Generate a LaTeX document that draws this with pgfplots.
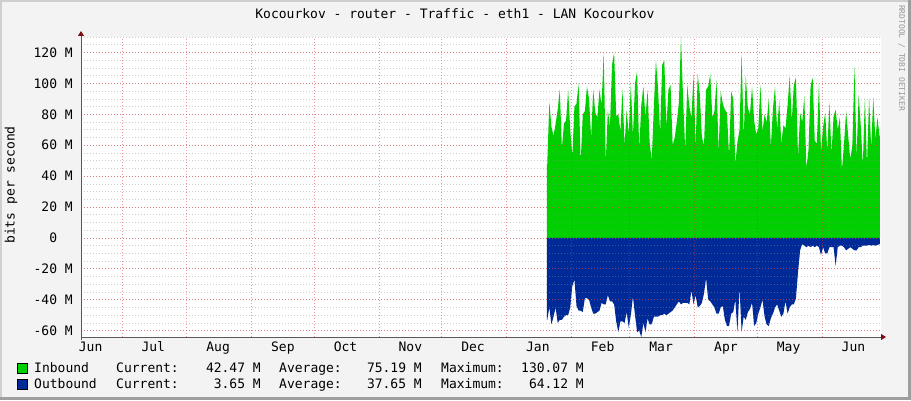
\documentclass[border=0pt]{standalone}
\usepackage{fontspec}
\setmainfont{DejaVu Sans Mono}
\usepackage{pgfplots}
\pgfplotsset{compat=1.18}
\usepackage{pgfplotstable}
\usetikzlibrary{arrows.meta}
\definecolor{inb}{RGB}{0,207,0}
\definecolor{outb}{RGB}{0,42,151}
\definecolor{bg}{RGB}{243,243,243}
\definecolor{arrowred}{RGB}{128,16,16}
\definecolor{mgrid}{RGB}{222,48,48}
\definecolor{ngrid}{RGB}{143,143,143}
\definecolor{shadea}{RGB}{207,207,207}
\definecolor{shadeb}{RGB}{158,158,158}
\newcommand\rf{\fontsize{13}{15}\selectfont}

\pgfplotstableread{
d v
203.3 0
203.3 48
203.5 48
204.5 88
205.5 72
206.5 66
207.5 74
208.5 83
209.5 96
210.5 58
211.5 74
212.5 76
213.5 96
214.5 70
215.5 53
216.5 85
217.5 87
218.5 100
219.5 49
220.5 80
221.5 82
222.5 98
223.5 90
224.5 65
225.5 96
226.5 81
227.5 78
228.5 96
229.5 86
230.5 120
231.5 49
232.5 83
233.5 72
234.5 112
235.5 120
236.5 79
237.5 80
238.5 69
239.5 96
240.5 60
241.5 83
242.5 67
243.5 100
244.5 66
245.5 100
246.5 108
247.5 57
248.5 86
249.5 98
250.5 78
251.5 96
252.5 62
253.5 50
254.5 85
255.5 115
256.5 97
257.5 68
258.5 112
259.5 115
260.5 72
261.5 96
262.5 99
263.5 60
264.5 65
265.5 75
266.5 88
267.5 130.07
268.5 90
269.5 57
270.5 99
271.5 85
272.5 78
273.5 106
274.5 59
275.5 106
276.5 93
277.5 65
278.5 60
279.5 96
280.5 98
281.5 106
282.5 78
283.5 82
284.5 102
285.5 56
286.5 95
287.5 87
288.5 83
289.5 81
290.5 53
291.5 95
292.5 90
293.5 48
294.5 62
295.5 70
296.5 120
297.5 65
298.5 105
299.5 84
300.5 80
301.5 98
302.5 76
303.5 67
304.5 71
305.5 99
306.5 69
307.5 80
308.5 75
309.5 90
310.5 59
311.5 84
312.5 98
313.5 70
314.5 89
315.5 61
316.5 73
317.5 71
318.5 86
319.5 105
320.5 76
321.5 99
322.5 104
323.5 52
324.5 81
325.5 75
326.5 92
327.5 45
328.5 57
329.5 98
330.5 104
331.5 63
332.5 61
333.5 100
334.5 56
335.5 72
336.5 81
337.5 56
338.5 88
339.5 54
340.5 79
341.5 83
342.5 70
343.5 78
344.5 44
345.5 61
346.5 82
347.5 66
348.5 51
349.5 60
350.5 111
351.5 52
352.5 93
353.5 73
354.5 47
355.5 91
356.5 47
357.5 91
358.5 58
359.5 91
360.5 64
361.5 78
362.5 66
362.7 66
362.7 0
}\inbound

\pgfplotstableread{
d v
203.3 0
203.3 -53
203.5 -53
204.5 -45
205.5 -56
206.5 -51
207.5 -45
208.5 -55
209.5 -53
210.5 -53
211.5 -51
212.5 -50
213.5 -50
214.5 -45
215.5 -31
216.5 -27
217.5 -44
218.5 -47
219.5 -47
220.5 -48
221.5 -39
222.5 -39
223.5 -40
224.5 -45
225.5 -49
226.5 -49
227.5 -48
228.5 -47
229.5 -42
230.5 -43
231.5 -43
232.5 -37
233.5 -41
234.5 -41
235.5 -43
236.5 -54
237.5 -61
238.5 -54
239.5 -54
240.5 -55
241.5 -48
242.5 -58
243.5 -50
244.5 -38
245.5 -50
246.5 -61
247.5 -60
248.5 -64.12
249.5 -55
250.5 -61
251.5 -52
252.5 -56
253.5 -56
254.5 -51
255.5 -51
256.5 -51
257.5 -50
258.5 -50
259.5 -49
260.5 -50
261.5 -49
262.5 -48
263.5 -47
264.5 -45
265.5 -43
266.5 -41
267.5 -43
268.5 -42
269.5 -42
270.5 -42
271.5 -43
272.5 -34
273.5 -43
274.5 -37
275.5 -45
276.5 -44
277.5 -42
278.5 -36
279.5 -26
280.5 -40
281.5 -41
282.5 -43
283.5 -45
284.5 -49
285.5 -49
286.5 -45
287.5 -44
288.5 -53
289.5 -57
290.5 -57
291.5 -49
292.5 -48
293.5 -40
294.5 -61
295.5 -32
296.5 -61
297.5 -51
298.5 -53
299.5 -48
300.5 -46
301.5 -42
302.5 -57
303.5 -55
304.5 -49
305.5 -45
306.5 -40
307.5 -51
308.5 -56
309.5 -57
310.5 -52
311.5 -49
312.5 -45
313.5 -43
314.5 -47
315.5 -51
316.5 -49
317.5 -41
318.5 -49
319.5 -45
320.5 -43
321.5 -43
322.5 -39
323.5 -22
324.5 -8
325.5 -4
326.5 -5
327.5 -6
328.5 -5
329.5 -6
330.5 -5
331.5 -6
332.5 -5
333.5 -6
334.5 -11
335.5 -6
336.5 -10
337.5 -10
338.5 -6
339.5 -6
340.5 -6
341.5 -18
342.5 -6
343.5 -5
344.5 -5
345.5 -6
346.5 -8
347.5 -7
348.5 -6
349.5 -7
350.5 -8
351.5 -8
352.5 -6
353.5 -6
354.5 -5
355.5 -5
356.5 -5
357.5 -4.5
358.5 -5
359.5 -4.5
360.5 -5
361.5 -4.5
362.5 -4
362.7 -4
362.7 0
}\outbound

\begin{document}
\begin{tikzpicture}[x=1pt,y=1pt]
\useasboundingbox (0,0) rectangle (911,400);
\fill[bg] (0,0) rectangle (911,400);
\fill[shadea] (0,0) rectangle (2,400);
\fill[shadea] (0,398) rectangle (911,400);
\fill[shadeb] (908,0) rectangle (911,400);
\fill[shadeb] (0,0) rectangle (911,3);

\begin{axis}[
  at={(81pt,63pt)}, anchor=south west,
  scale only axis, width=800pt, height=300pt,
  xmin=-19.6, xmax=363.2, ymin=-64.12, ymax=130.07,
  axis lines=left, axis on top,
  axis background/.style={fill=white},
  axis line style={draw=black!65, line width=0.8pt},
  x axis line style={-{Triangle[length=5pt,width=6pt,color=arrowred]}, shorten >=-5pt},
  y axis line style={-{Triangle[length=5pt,width=6pt,color=arrowred]}, shorten >=-6pt, shorten <=-3pt},
  major tick length=0pt, minor tick length=0pt,
  xtick={0,31,62,92,123,153,184,215,243,274,304,335},
  xticklabels={},
  extra x ticks={-15,15,46,77,107,138,168,199,230,258,289,319,350},
  extra x tick labels={Jun,Jul,Aug,Sep,Oct,Nov,Dec,Jan,Feb,Mar,Apr,May,Jun},
  extra x tick style={grid=none},
  ytick={-60,-40,...,120},
  yticklabels={-60 M,-40 M,-20 M,0\hphantom{MM},20 M,40 M,60 M,80 M,100 M,120 M},
  minor ytick={-60,-55,...,130},
  xmajorgrids=true, ymajorgrids=true, yminorgrids=true,
  major grid style={draw=mgrid, draw opacity=0.5, dash pattern=on 1pt off 2pt, line width=0.7pt},
  minor grid style={draw=ngrid, draw opacity=0.45, dash pattern=on 1pt off 2pt, line width=0.7pt},
  xticklabel style={font=\rf, anchor=base, inner sep=0pt, yshift=-14.5pt},
  yticklabel style={font=\rf, anchor=base east, inner sep=0pt, xshift=-8pt, yshift=-4.7pt},
]
\addplot[fill=inb, draw=none] table[x=d, y=v] {\inbound};
\addplot[fill=outb, draw=none] table[x=d, y=v] {\outbound};
\end{axis}

\node[anchor=base, inner sep=0pt] at (455,381) {\rf Kocourkov - router - Traffic - eth1 - LAN Kocourkov};
\node[rotate=90, anchor=base, inner sep=0pt] at (14.5,215) {\rf bits per second};
\node[rotate=-90, anchor=base, inner sep=0pt, text=black!40] at (899,342) {\fontsize{8}{9}\selectfont RRDTOOL / TOBI OETIKER};

% legend
\fill[inb, draw=black, line width=0.8pt] (17.5,26.5) rectangle (27.5,36.5);
\fill[outb, draw=black, line width=0.8pt] (17.5,10.5) rectangle (27.5,20.5);
\begin{scope}[every node/.style={inner sep=0pt}]
\node[anchor=base west] at (34,27.5) {\rf Inbound};
\node[anchor=base west] at (116,27.5) {\rf Current:};
\node[anchor=base east] at (261,27.5) {\rf 42.47 M};
\node[anchor=base west] at (279,27.5) {\rf Average:};
\node[anchor=base east] at (422,27.5) {\rf 75.19 M};
\node[anchor=base west] at (441,27.5) {\rf Maximum:};
\node[anchor=base east] at (584,27.5) {\rf 130.07 M};
\node[anchor=base west] at (34,11.5) {\rf Outbound};
\node[anchor=base west] at (116,11.5) {\rf Current:};
\node[anchor=base east] at (261,11.5) {\rf 3.65 M};
\node[anchor=base west] at (279,11.5) {\rf Average:};
\node[anchor=base east] at (422,11.5) {\rf 37.65 M};
\node[anchor=base west] at (441,11.5) {\rf Maximum:};
\node[anchor=base east] at (584,11.5) {\rf 64.12 M};
\end{scope}
\end{tikzpicture}
\end{document}
